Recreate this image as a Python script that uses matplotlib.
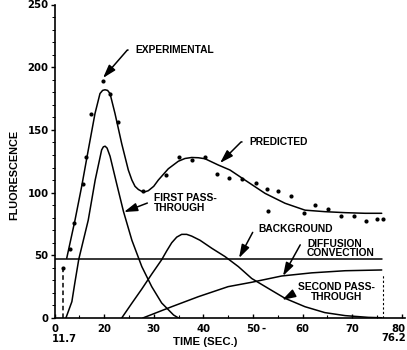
import matplotlib
matplotlib.use("Agg")
import matplotlib.pyplot as plt
from matplotlib.ticker import MultipleLocator

# ---------------- data ----------------
exp_t = [11.7, 13.1, 13.9, 15.7, 16.4, 17.4, 19.8, 21.2, 22.8, 27.8, 32.5, 35.1,
         37.7, 40.3, 42.8, 45.2, 47.8, 50.6, 52.8, 53.0, 55.1, 57.7, 60.3, 62.5,
         65.1, 67.8, 70.4, 72.8, 75.0, 76.3]
exp_v = [40, 55, 76, 107, 128, 163, 189, 179, 156, 101, 114, 128,
         126, 128, 115, 112, 111, 108, 103, 85, 101, 97, 84, 90,
         87, 81, 81, 77, 79, 79]

pred_t = [12.46, 14.13, 15.48, 16.81, 18.16, 19.17, 19.7, 20.18, 20.7, 21.19, 22.2, 23.55,
          24.88, 25.6, 26.23, 26.9, 27.58, 28.2, 28.91, 30.0, 30.93, 32.94, 34.96, 36.3,
          37.66, 39.0, 40.34, 43.02, 45.38, 48.4, 52.44, 56.47, 60.5, 64.5, 68.6, 72.6,
          75.97]
pred_v = [47.6, 78, 105, 134, 163, 179, 181.5, 182, 181.5, 179, 163, 139,
          118, 110, 105, 102.5, 101, 100.6, 101.5, 105, 110, 119, 125, 127.2,
          128, 127.8, 127, 122, 118, 110, 99.4, 91.5, 86, 84.8, 84, 83.5,
          83.5]

first_t = [12.3, 13.5, 14.1, 14.9, 16.8, 18.2, 19.5, 19.85, 20.2, 20.6, 21.2, 22.5, 23.9,
           25.6, 27.6, 29.6, 31.6, 34.0, 35.0]
first_v = [0, 13, 28, 47, 78, 110, 134, 136.5, 137, 135.5, 129, 107.6, 85,
           62, 41, 25, 12, 2.4, 0]

second_t = [23.55, 25.56, 27.58, 29.6, 31.61, 32.62, 33.63, 34.64, 35.64, 36.65,
            37.66, 39.33, 41.75, 44.37, 47.06, 49.76, 53.1, 56.47, 60.5, 64.5,
            68.6, 73.27, 75.97]
second_v = [0, 11.6, 23, 35, 46.5, 53.5, 60, 64.5, 66.7, 66.7,
            65.3, 62, 55.5, 49, 41, 31.5, 23.6, 15.7, 9, 4.3,
            1.9, 0.5, 0.2]

diff_t = [27.8, 33.63, 39.0, 45.0, 49.76, 55.8, 61.85, 68.6, 75.97]
diff_v = [0, 9, 17, 25, 28.5, 33.5, 36, 37.7, 38.3]

background_t = [10.1, 76.0]
background_v = [46.8, 46.8]

start_t = 11.7
start_v = 40
end_t = 76.2
end_v = 35

xtick_pos = [10.1, 20, 30, 40, 50, 60, 70, 80]
xtick_lab = ["0", "20", "30", "40", "50", "60", "70", ""]
ytick_pos = [0, 50, 100, 150, 200, 250]
ytick_lab = ["0", "50", "100", "150", "200", "250"]

# ---------------- figure ----------------
W, H = 407, 350
fig = plt.figure(figsize=(W / 100, H / 100), dpi=100)
ax = fig.add_axes([55 / W, 32 / H, (404.7 - 55) / W, (318 - 4.5) / H])
ax.set_xlim(10.1, 80.6)
ax.set_ylim(0, 250)

lw = 1.1
for tt, vv in [(pred_t, pred_v), (first_t, first_v), (second_t, second_v),
               (diff_t, diff_v), (background_t, background_v)]:
    ax.plot(tt, vv, color="black", lw=lw, solid_joinstyle="round",
            solid_capstyle="round")
ax.plot(exp_t, exp_v, "o", color="black", ms=3.0, mew=0)
ax.plot([start_t, start_t], [0, start_v], color="black", lw=1.1, ls=(0, (3, 2)))
ax.plot([end_t, end_t], [0, end_v], color="black", lw=0.8, ls=(0, (2, 2)))

for s in ["top", "right"]:
    ax.spines[s].set_visible(False)
for s in ["left", "bottom"]:
    ax.spines[s].set_linewidth(1.2)

tick_font = dict(family="DejaVu Sans", weight="bold", size=7.3)
ax.set_xticks(xtick_pos)
ax.set_xticklabels(xtick_lab, fontdict=tick_font)
ax.set_yticks(ytick_pos)
ax.set_yticklabels(ytick_lab, fontdict=tick_font)
ax.xaxis.set_minor_locator(MultipleLocator(5))
ax.yaxis.set_minor_locator(MultipleLocator(10))
ax.tick_params(axis="x", which="major", direction="in", length=3, width=1, pad=4.5)
ax.tick_params(axis="x", which="minor", direction="in", length=2, width=0.8)
ax.tick_params(axis="y", which="major", direction="out", length=3, width=1, pad=1.5)
ax.tick_params(axis="y", which="minor", direction="out", length=2, width=0.7)

ax.annotate("80", xy=(80, 0), xycoords=("data", "axes fraction"),
            xytext=(-3, -11), textcoords="offset pixels", ha="center", va="center",
            **tick_font)
ax.annotate("-", xy=(50, 0), xycoords=("data", "axes fraction"),
            xytext=(11, -11), textcoords="offset pixels", ha="center", va="center",
            **tick_font)
ax.annotate("11.7", xy=(start_t, 0), xycoords=("data", "axes fraction"),
            xytext=(1, -21), textcoords="offset pixels", ha="center", va="center",
            **tick_font)
ax.annotate("76.2", xy=(end_t, 0), xycoords=("data", "axes fraction"),
            xytext=(-1, -20), textcoords="offset pixels", ha="left", va="center",
            **tick_font)

lab_font = dict(family="Liberation Sans", weight="bold")
fig.text(14 / W, 1 - 175 / H, "FLUORESCENCE", rotation=90, ha="center", va="center",
         size=7.8, **lab_font)
fig.text(205 / W, 1 - 342 / H, "TIME (SEC.)", ha="center", va="center",
         size=8.2, **lab_font)

ann_font = dict(family="Liberation Sans", weight="bold", size=7.4)


def leader(text, tip, txt, angleB, rely=0.5, malign="left"):
    ax.annotate(text, xy=tip, xytext=txt, ha="left", va="center",
                multialignment=malign, linespacing=0.95, **ann_font,
                arrowprops=dict(arrowstyle="-|>,head_length=0.8,head_width=0.25",
                                mutation_scale=10, color="black", lw=1.1,
                                connectionstyle=f"angle,angleA=0,angleB={angleB},rad=0",
                                shrinkA=3, shrinkB=0, relpos=(0, rely)))


leader("EXPERIMENTAL", (19.78, 191.4), (26.23, 213.7), 49)
leader("PREDICTED", (43.37, 123.6), (49.2, 140.4), 45)
leader("FIRST PASS-\nTHROUGH", (24.0, 84.5), (30.06, 91.7), 21, rely=0.6)
leader("BACKGROUND", (47.2, 47.8), (51.0, 71.0), 62)
leader("DIFFUSION\nCONVECTION", (56.06, 33.5), (60.9, 55.4), 61, rely=0.75)
leader("SECOND PASS-\nTHROUGH", (55.9, 14.4), (59.1, 20.7), 29, rely=0.4,
       malign="center")

fig.savefig("out.png", dpi=100)
